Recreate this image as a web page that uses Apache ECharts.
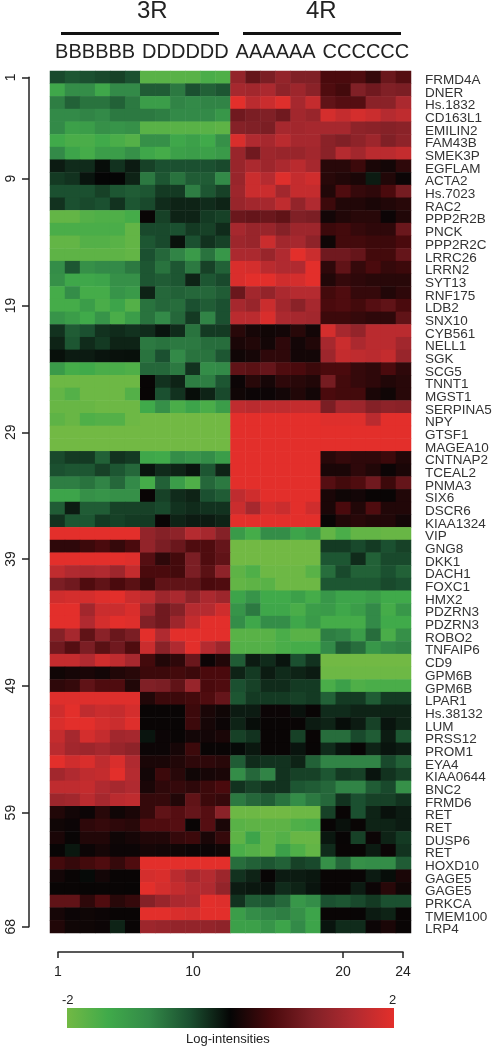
<!DOCTYPE html>
<html>
<head>
<meta charset="utf-8">
<title>3R / 4R heatmap</title>
<script src="https://cdn.jsdelivr.net/npm/echarts@6/dist/echarts.min.js"></script>
<style>
  html, body { margin: 0; padding: 0; background: #fff; }
  #chart { width: 496px; height: 1050px; }
</style>
</head>
<body>
<div id="chart"></div>
<script>
const columnNames = ['1','2','3','4','5','6','7','8','9','10','11','12','13','14','15','16','17','18','19','20','21','22','23','24']
const sampleGroups = ['BBBBBB', 'DDDDDD', 'AAAAAA', 'CCCCCC']

const geneLabels = [
  'FRMD4A','DNER','Hs.1832','CD163L1','EMILIN2','FAM43B','SMEK3P','EGFLAM','ACTA2','Hs.7023','RAC2','PPP2R2B','PNCK','PPP2R2C','LRRC26','LRRN2','SYT13',
  'RNF175','LDB2','SNX10','CYB561','NELL1','SGK','SCG5','TNNT1','MGST1','SERPINA5','NPY','GTSF1','MAGEA10','CNTNAP2','TCEAL2','PNMA3','SIX6','DSCR6','KIAA1324',
  'VIP','GNG8','DKK1','DACH1','FOXC1','HMX2','PDZRN3','PDZRN3','ROBO2','TNFAIP6','CD9','GPM6B','GPM6B','LPAR1','Hs.38132','LUM','PRSS12','PROM1','EYA4','KIAA0644','BNC2','FRMD6',
  'RET','RET','DUSP6','RET','HOXD10','GAGE5','GAGE5','PRKCA','TMEM100','LRP4'
]

const rowTicks = [1, 9, 19, 29, 39, 49, 59, 68]
const columnTicks = [1, 10, 20, 24]

// log-intensities, one row per gene (B x6, D x6, A x6, C x6)
const rowsUpIn4R = [
  [-.45,-.55,-.5,-.45,-.4,-.5, -1.75,-1.75,-1.75,-1.75,-1.6,-1.65, 1.2,.75,.95,1.2,1,1, .5,.5,.55,.35,.8,.6],
  [-1.45,-1.05,-1.05,-1.45,-1,-1, -.6,-.6,-.85,-.5,-.65,-.55, 1.4,1.35,1.45,1.15,1.3,1.1, .55,.45,1,.85,1,.95],
  [-.9,-.65,-.8,-.8,-.65,-.85, -1.3,-1.3,-.95,-1,-.95,-.95, 2,1.6,1.75,1.95,1.4,1.7, .7,.6,.6,1.1,1.1,1.45],
  [-1,-1,-.95,-1,-.85,-.85, -.85,-.9,-1,-1,-1,-1.2, .85,.95,1,.85,1.35,1.25, 1.85,1.7,1.85,1.75,1.55,1.65],
  [-1,-1.35,-1.3,-1.1,-1.15,-1.1, -1.75,-1.75,-1.75,-1.75,-1.75,-1.8, 1.05,1,.95,1.4,1.35,1.4, 1.4,1.4,1.15,1.1,1.05,1.1],
  [-1.5,-1.6,-1.6,-1.5,-1.6,-1.7, -1.1,-1.1,-1.45,-1.35,-1.5,-1.1, 1.9,1.5,1.4,1.6,1.4,1.4, 1.1,1,1.15,1.3,1,1.15],
  [-1,-1.4,-1.55,-1.3,-1.3,-1.1, -1.45,-1.55,-1.35,-1.3,-1.35,-1.25, 1.25,.85,1.3,1.25,1.25,1.35, 1.1,1.55,1.35,1.6,1.6,1.7],
  [-.15,-.25,-.25,-.05,-.3,-.15, -.4,-.5,-.5,-.5,-.5,-.45, 1.25,1.45,1.3,1.45,1.6,1.4, .25,.25,.4,.15,.1,.3],
  [-.35,-.3,-.1,0,0,-.2, -.85,-.55,-.8,-.6,-.6,-1, 1.25,1.75,1.55,1.95,1.7,1.8, .25,.2,.15,-.15,.2,.05],
  [-.5,-.5,-.5,-.4,-.55,-.6, -.55,-.35,-.35,-.9,-.55,-.4, 1.3,1.75,1.75,1.35,1.7,1.7, .2,.55,.35,.3,.5,.9],
  [-.3,-.5,-.45,-.5,-.3,-.55, -.45,-.25,-.2,-.2,-.25,-.2, 1.25,1.35,1.4,1.65,1.2,1.5, .4,.2,.2,.15,.2,.25],
  [-1.85,-1.85,-1.7,-1.65,-1.65,-1.55, .03,-.4,-.2,-.2,-.35,-.4, .8,.75,.8,.7,1,.95, .1,.2,.25,.25,.05,.2],
  [-1.6,-1.6,-1.6,-1.6,-1.6,-1.85, -.45,-.45,-.5,-.35,-.4,-.25, 1.4,1.25,1.25,1.05,1.3,1.3, .4,.45,.35,.3,.3,.8],
  [-1.85,-1.85,-1.7,-1.7,-1.75,-1.85, -.55,-.45,-.08,-.5,-.3,-.4, 1.3,1.25,1.75,1.35,1.4,1.15, .07,.45,.45,.4,.4,.5],
  [-1.8,-1.8,-1.8,-1.8,-1.8,-1.85, -.5,-.7,-.95,-1.25,-.8,-1.2, 1.45,1.45,1.25,1.5,2,1.75, .85,.85,.75,.45,.45,.75],
  [-1.05,-.55,-1.1,-1,-1,-.85, -.55,-.8,-.55,-.85,-.4,-.65, 1.9,1.85,1.6,1.5,1.5,2, .3,.7,.35,.5,.35,.4],
  [-1.1,-1.45,-1.45,-1.4,-1.1,-1.1, -.55,-.6,-.55,-.2,-.55,-.45, 1.9,2,2,1.8,1.85,2, .2,.35,.3,.25,.25,.25]
]
const rowsUpIn4RLower = [
  [-1.55,-1.05,-1.55,-1.55,-1.15,-1.25, -.2,-.7,-.65,-.7,-.7,-.6, .8,1.35,1.2,1.45,1.55,1.55, .45,.55,.35,.35,.2,.3],
  [-1.55,-1.55,-1.3,-1.6,-1.4,-1.7, -.8,-.7,-.75,-.5,-.6,-.5, 1.4,1.25,1.75,1.35,1.1,1.4, .5,.55,.45,.6,.7,.5],
  [-1.15,-1.3,-1.5,-1.15,-1.6,-1.3, -.8,-1,-.7,-.35,-.95,-.5, 1.6,1.6,1.9,1.45,1.4,1.35, .4,.4,.35,.3,.3,.7],
  [-.3,-.6,-.5,-.3,-.25,-.3, -.25,-.1,-.25,-.8,-.35,-.35, .25,.12,.08,.1,.25,.1, 1.85,1.4,1.2,1.6,1.6,1.6],
  [-.2,-.55,-.25,-.35,-.2,-.2, -.85,-.8,-.85,-.85,-.75,-.75, .15,.2,.1,.3,.1,.2, 1.4,1.75,1.45,1.6,1.6,1.35],
  [-.07,-.15,-.15,-.1,-.08,-.07, -.8,-.5,-1,-.8,-.8,-.55, .08,.12,.3,.3,.1,.1, 1.3,1.7,1.65,1.6,1.7,1.25],
  [-1.25,-1.55,-1.5,-1.6,-1.6,-1.65, -.7,-.7,-.85,-.3,-1.05,-1, .7,.65,.75,.55,.5,.4, .5,.5,.35,.3,.5,.3],
  [-1.95,-1.95,-1.95,-1.95,-1.95,-1.95, .02,-.3,-.2,-.9,-.9,-.55, .05,.25,.12,.3,.25,.2, .9,.45,.35,.3,.2,.25],
  [-1.85,-1.7,-1.95,-1.95,-1.95,-1.7, .02,-.5,-.3,-.05,-.2,-.45, .08,.05,.05,.1,.2,.1, .5,.45,.45,.15,.08,.25],
  [-1.9,-1.9,-1.9,-1.95,-1.95,-1.95, -1.5,-1.1,-1.6,-1.4,-1.6,-1.3, 1.65,1.6,1.65,1.65,1.7,1.7, .95,1.35,1.3,1.05,1.15,1.1],
  [-1.8,-1.9,-1.65,-1.7,-1.7,-1.95, -2,-2,-2,-2,-2,-2, 2,2,2,2,2,2, 1.95,1.95,1.95,1.6,2,2],
  [-2,-2,-2,-2,-2,-2, -2,-2,-2,-2,-2,-2, 2,2,2,2,2,2, 2,2,2,2,2,2],
  [-2,-2,-2,-2,-2,-2, -2,-2,-2,-2,-2,-2, 2,2,2,2,2,2, 2,2,2,2,2,2],
  [-.45,-.35,-.35,-.65,-.3,-.35, -1.45,-1.5,-1.05,-1.15,-1.05,-1.3, 2,2,2,2,2,2, .25,.35,.3,.3,.4,.2],
  [-.5,-.55,-.55,-.4,-.55,-.7, -.1,-.25,-.2,-.1,-.55,-.2, 2,2,2,2,2,2, .15,.15,.3,.2,.05,.15],
  [-.9,-.9,-.8,-.95,-.7,-1, -1.55,-.65,-1.3,-1.65,-.7,-.85, 2,2,2,2,2,2, .6,.45,.55,.85,.4,.75],
  [-1.4,-1.4,-1.1,-1.15,-1.1,-1.1, .03,-.4,-.25,-.2,-.5,-.6, 1.65,1.8,2,2,2,2, .15,.07,.1,.03,.03,.2],
  [-.6,-.15,-.6,-.6,-.4,-.4, -.4,-.45,-.3,-.25,-.3,-.3, 1.75,1.4,1.85,1.75,2,1.8, .15,.5,.2,.55,.2,.2],
  [-.3,-.55,-.55,-.35,-.4,-.35, -.35,.03,-.2,-.15,-.15,-.2, 2,2,2,2,2,2, .03,.2,.25,.2,.2,.1]
]
const rowsUpIn3R = [
  [2,2,2,2,2,2, 1.2,1.05,1.15,1.55,1.4,1.05, -1.25,-1.55,-1.05,-1.05,-1.4,-1.25, -1.85,-1.6,-1.85,-1.85,-1.9,-1.9],
  [.3,.3,.4,.5,.35,.5, 1.2,.95,.8,.55,.55,.75, -2,-2,-2,-2,-2,-2, -.35,-.35,-.45,-.35,-.5,-.4],
  [2,2,2,2,2,1.95, .6,.3,.45,.95,.55,.7, -2,-2,-2,-2,-2,-2, -.55,-.55,-.25,-.65,-.45,-.45],
  [1.65,1.5,1.45,1.5,1.3,1.7, .5,.5,.45,.95,.65,1.15, -1.8,-1.65,-1.95,-1.95,-1.95,-1.75, -.75,-.45,-.65,-.65,-.5,-.65],
  [.95,.85,.55,.7,.5,.65, .4,.7,.7,.7,.5,.55, -1.85,-1.8,-1.75,-1.95,-1.95,-1.95, -.55,-.55,-.55,-.55,-.45,-.5],
  [1.8,1.85,1.85,1.95,2,1.75, 1.65,1.3,1.45,1.15,1.45,1.3, -1.4,-1.15,-1.5,-1.5,-1.35,-1.55, -1.2,-1.4,-1.4,-1.3,-1.5,-1.5],
  [2,2,1.35,1.75,1.75,1.9, 1.3,.85,1.05,1.55,1.55,1.8, -1.15,-.85,-1.45,-1.45,-1.6,-1.3, -1.25,-1.45,-1.3,-1,-1.55,-1.2],
  [2,2,1.5,1.85,2,1.95, 1,.85,1.3,1.7,2,2, -1.05,-1.45,-1.05,-1.05,-1.45,-1.25, -1.55,-1.55,-1.55,-1,-1.5,-1.5],
  [1.05,1.4,.7,1.1,.8,.95, 2,1.5,2,2,2,2, -1.75,-1.75,-1.75,-1.6,-1.75,-1.75, -.9,-.95,-1.3,-.75,-1.6,-1.1],
  [.85,.6,.95,.65,.85,.55, 1.75,1.1,1.5,2,1.55,1.3, -1.7,-1.7,-1.7,-1.6,-1.55,-1.55, -1,-.6,-.75,-1.2,-1,-.95],
  [1.7,1.7,1.5,1.8,1.65,1.4, .45,.2,.3,.8,.05,.2, -.6,-.15,-.25,-.1,-.5,-.3, -2,-2,-2,-2,-2,-2],
  [.08,.12,.15,.1,.2,.25, .4,.4,.45,.4,.5,.5, -.2,-.35,-.15,-.25,-.2,-.15, -1.95,-1.95,-1.95,-1.95,-1.95,-1.95],
  [.3,.35,.7,.55,.55,.2, 1,.95,.7,1.25,.5,.55, -.5,-.4,-.25,-.25,-.35,-.35, -1.6,-1.35,-1.65,-1.6,-1.6,-1.6]
]
const rowsUpIn3RLower = [
  [1.95,1.95,1.95,1.95,1.95,1.95, .2,.4,.4,.45,.55,.75, -.55,-.35,-.35,-.35,-.4,-.35, -.65,-.35,-.35,-.6,-.35,-.35],
  [1.8,2,1.65,1.75,1.7,1.85, .03,.03,.03,.4,.15,.08, -.15,-.15,.05,.05,-.08,.03, -.25,-.25,-.2,-.2,-.2,-.2],
  [1.9,2,2,1.85,1.75,1.95, .03,.03,.03,.4,.12,.05, -.2,-.05,.03,.03,.03,-.15, -.2,-.05,-.15,-.4,-.1,-.2],
  [1.7,1.4,1.85,1.7,1.35,1.4, -.1,.05,.03,.1,.1,.15, -.4,-.3,.03,.03,-.4,.03, -.75,-.75,-.45,-.6,-.15,-.55],
  [1.6,1.35,1.3,1.4,1.25,1.15, .05,.05,.12,.4,.03,.03, -.03,-.12,.03,.03,-.1,.02, -.25,-.1,.02,-.2,-.1,-.15],
  [2,1.8,1.9,1.65,1.9,1.5, .15,.15,.2,.3,.3,.25, -.6,-.25,-.3,-.3,-.2,-.65, -.95,-.95,-.95,-.95,-.45,-.65],
  [1.35,1.5,1.65,1.7,2,1.55, .1,.4,.25,.08,.12,.15, -1.05,-.7,-.95,-.3,-.4,-.4, -.55,-.35,-.4,-.1,-.3,-.4],
  [1.65,1.65,1.7,1.5,1.4,1.5, .15,.3,.35,.3,.4,.5, -.3,-.4,-.3,-.3,-.55,-.6, -.7,-.95,-.95,-.6,-.45,-1.1],
  [1.3,1.35,1.6,1.4,1.6,1.65, .35,.35,.2,.7,.4,.35, -.85,-.7,-.6,-.8,-1.05,-.85, -.7,-.3,-.5,-.4,-.4,-.3]
]
const rowsMixed = [
  [.2,.1,.05,.25,.08,.15, .35,.7,.6,.75,.6,1.1, -1.95,-1.95,-2,-2,-1.95,-1.95, -.4,.03,-.5,-.2,-.08,-.15],
  [.08,.05,.3,.35,.3,.25, .55,.55,.6,.03,.6,.15, -1.75,-1.8,-1.8,-1.8,-1.65,-1.6, .02,-.08,.03,-.2,-.2,-.15],
  [.15,.03,.2,.2,.07,.12, .2,.2,.35,.4,.15,.35, -1.8,-1.4,-1.8,-1.7,-1.9,-1.9, -.12,.02,-.4,.05,-.2,-.35],
  [.02,-.12,.05,.12,.05,.05, .12,.1,.08,.05,.05,.08, -1.6,-1.7,-1.8,-1.35,-1.65,-1.85, -.25,.03,.03,-.15,.05,-.3],
  [.45,.35,.45,.55,.35,.55, 2,2,2,2,2,2, -.75,-.65,-.55,-.65,-.4,-.45, -1.1,-.7,-1.1,-1.05,-1.05,-.6],
  [.1,.03,-.03,.1,.03,.03, 1.85,1.9,1.6,1.4,1.55,1.3, -.3,-.2,.02,-.15,-.15,-.12, .03,.03,.03,-.15,-.05,.15],
  [.03,.03,.02,.03,.03,.02, 2,1.85,1.7,1.55,1.5,1.2, -.15,-.12,-.08,-.25,-.2,-.1, .03,.03,-.15,.05,.25,.08],
  [.7,.7,.3,.55,.25,.35, 1.05,1.25,1.45,1.5,2,1.95, -.3,-.6,-.55,-.7,-1.2,-1.05, -.5,-.55,-.45,-.35,-.5,-.5],
  [.12,.05,.07,.05,.03,.03, 2,2,1.9,1.85,2,2, -1.3,-1.05,-.95,-.9,-1.1,-1.4, .03,.03,.02,-.15,-.2,.03],
  [.2,.08,.07,.05,-.2,.03, 1.3,1.25,1.2,1.2,1.2,1.15, -1.35,-1.35,-1.15,-1.4,-1,-1.4, -.1,-.25,-.25,.05,.15,.03]
]

const intensityRows = [...rowsUpIn4R, ...rowsUpIn4RLower, ...rowsUpIn3R, ...rowsUpIn3RLower, ...rowsMixed]

const heatData = []
intensityRows.forEach((row, r) => {
  row.forEach((v, c) => heatData.push([c, r, v]))
})

const rampColors = ['#72b944', '#40aa4a', '#338a48', '#1b5030', '#050505', '#4a0a0d', '#802026', '#b02a30', '#e32f2b']

const font = '"Liberation Sans", Arial, sans-serif'
const inkColor = '#222'

const chart = echarts.init(document.getElementById('chart'), null, { width: 496, height: 1050 })

chart.setOption({
  animation: false,
  backgroundColor: '#fff',
  grid: [
    { left: 50, top: 71, width: 361, height: 862 },   // heatmap
    { left: 29, top: 77.3, width: 1, height: 849.4 }, // row index axis
    { left: 58, top: 951, width: 345, height: 1 },    // column index axis
    { left: 50, top: 71, width: 361, height: 1 },     // sample letters above the heatmap
    { left: 50, top: 74, width: 361, height: 862 }    // gene names, they sit a bit lower than their rows
  ],
  xAxis: [
    { type: 'category', gridIndex: 0, data: columnNames, show: false },
    { type: 'value', gridIndex: 1, show: false },
    {
      type: 'value', gridIndex: 2, position: 'bottom', min: 1, max: 24,
      axisLine: { lineStyle: { color: inkColor, width: 1.5 } },
      axisTick: { customValues: columnTicks, length: 6, lineStyle: { color: inkColor, width: 1.5 } },
      axisLabel: { customValues: columnTicks, margin: 13, fontFamily: font, fontSize: 14, color: '#222' },
      splitLine: { show: false }
    },
    {
      type: 'category', gridIndex: 3, position: 'top', data: sampleGroups,
      axisLine: { show: false }, axisTick: { show: false }, splitLine: { show: false },
      axisLabel: { interval: 0, margin: 9, fontFamily: font, fontSize: 20, color: '#222' }
    },
    { type: 'value', gridIndex: 4, show: false }
  ],
  yAxis: [
    { type: 'category', gridIndex: 0, inverse: true, data: geneLabels, show: false },
    {
      type: 'value', gridIndex: 1, position: 'left', inverse: true, min: 1, max: 68,
      axisLine: { lineStyle: { color: inkColor, width: 1.5 } },
      axisTick: { customValues: rowTicks, length: 7, lineStyle: { color: inkColor, width: 1.5 } },
      axisLabel: { customValues: rowTicks, rotate: 90, margin: 11, fontFamily: font, fontSize: 14, color: '#222' },
      splitLine: { show: false }
    },
    { type: 'value', gridIndex: 2, show: false },
    { type: 'value', gridIndex: 3, show: false },
    {
      type: 'category', gridIndex: 4, position: 'right', inverse: true, data: geneLabels,
      axisLine: { show: false }, axisTick: { show: false }, splitLine: { show: false },
      axisLabel: { interval: 0, margin: 14, fontFamily: font, fontSize: 13.5, color: '#333' }
    }
  ],
  // the built-in bar has rounded corners, so it stays hidden and the legend is a plain rect below
  visualMap: {
    type: 'continuous',
    show: false,
    seriesIndex: 0,
    min: -2,
    max: 2,
    inRange: { color: rampColors }
  },
  series: [{
    type: 'heatmap',
    xAxisIndex: 0,
    yAxisIndex: 0,
    data: heatData,
    progressive: 0,
    itemStyle: { borderWidth: 0 }
  }],
  graphic: [
    { type: 'text', left: 137, top: -1, style: { text: '3R', font: '24px ' + font, fill: '#222' } },
    { type: 'text', left: 306, top: -1, style: { text: '4R', font: '24px ' + font, fill: '#222' } },
    { type: 'rect', shape: { x: 61, y: 32, width: 158, height: 3 }, style: { fill: '#111' } },
    { type: 'rect', shape: { x: 243, y: 32, width: 158, height: 3 }, style: { fill: '#111' } },
    {
      type: 'rect',
      shape: { x: 67, y: 1008, width: 327, height: 20 },
      style: {
        fill: new echarts.graphic.LinearGradient(0, 0, 1, 0,
          rampColors.map((color, i) => ({ offset: i / (rampColors.length - 1), color })))
      }
    },
    { type: 'text', left: 62, top: 994, style: { text: '-2', font: '13px ' + font, fill: '#222' } },
    { type: 'text', left: 389, top: 994, style: { text: '2', font: '13px ' + font, fill: '#222' } },
    { type: 'text', left: 186, top: 1033, style: { text: 'Log-intensities', font: '13px ' + font, fill: '#222' } }
  ]
})
</script>
</body>
</html>
